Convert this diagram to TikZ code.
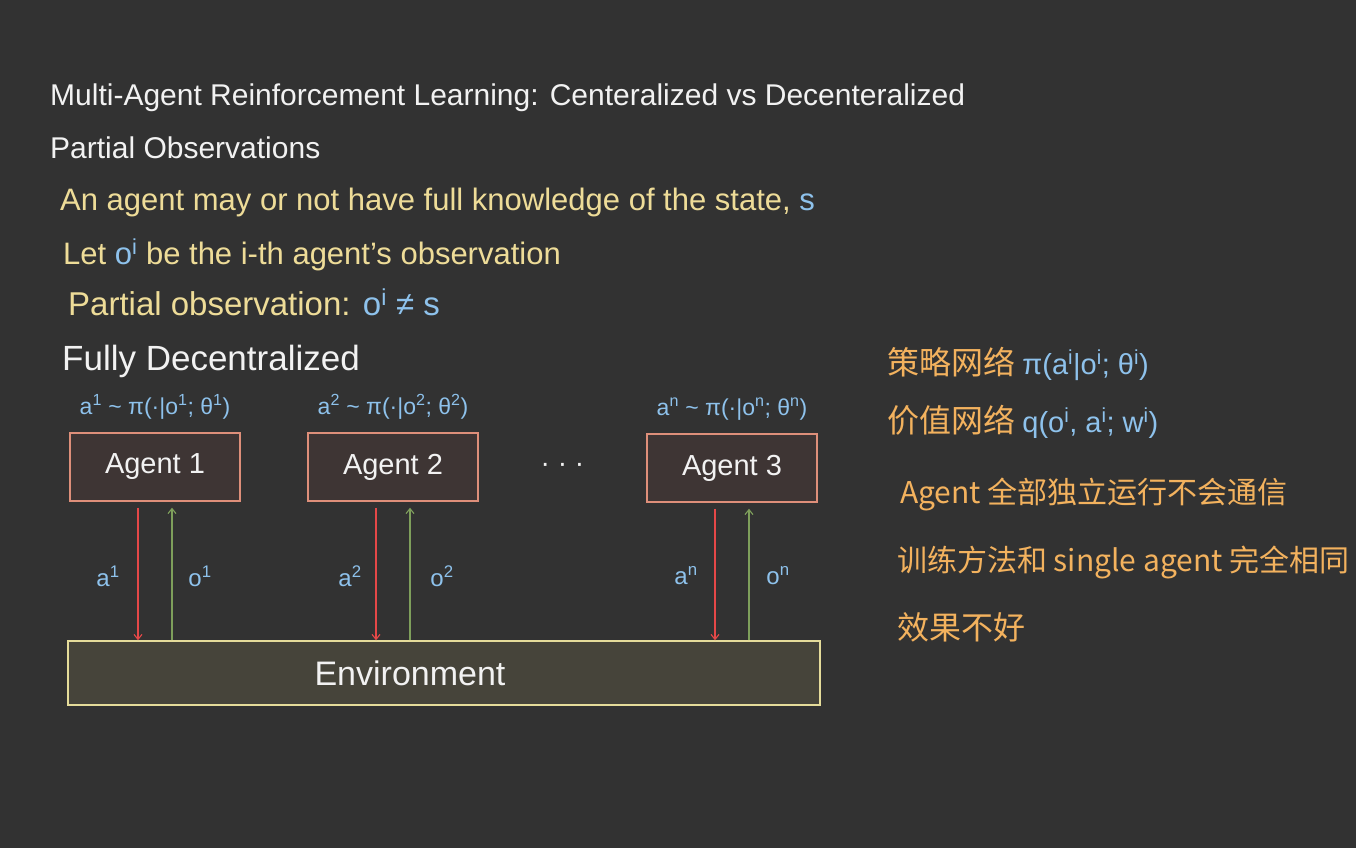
\documentclass[tikz,border=0pt]{standalone}
\usepackage{fontspec}
\setmainfont{Liberation Sans}
\newfontfamily\cjk{Noto Sans CJK SC}
\usepackage{tikz}
\usetikzlibrary{arrows.meta,positioning,calc}
\definecolor{board}{HTML}{323232}
\definecolor{chalk}{HTML}{F2F2F2}
\definecolor{straw}{HTML}{EEDC98}
\definecolor{sky}{HTML}{8EC2EC}
\definecolor{amber}{HTML}{F3B25E}
\definecolor{salmon}{HTML}{DE8F7A}
\definecolor{redline}{HTML}{E54848}
\definecolor{greenline}{HTML}{7E9F5B}
\definecolor{agentfill}{HTML}{3E3534}
\definecolor{envfill}{HTML}{46443A}
\definecolor{envline}{HTML}{E5DC9A}
\newcommand{\sx}[1]{\textsuperscript{#1}}
\newcommand{\fm}[1]{{\color{sky}\normalfont\fontsize{29}{29}\selectfont #1}}

\begin{document}
\begin{tikzpicture}[x=1pt,y=-1pt,every node/.style={inner sep=0pt,anchor=base west},
  fs/.style={font=\fontsize{#1}{#1}\selectfont},
  cjkfs/.style={font=\cjk\fontsize{#1}{#1}\selectfont,text=amber},
  agentbox/.style={draw=salmon,fill=agentfill,line width=1.4pt,minimum width=170pt,minimum height=68pt,anchor=center,text=chalk,fs=29},
  envbox/.style={draw=envline,fill=envfill,line width=1.4pt,minimum width=752pt,minimum height=64pt,anchor=center},
  policy/.style={text=sky,fs=23,above=13pt of #1},
  act/.style={draw=redline,line width=1.1pt,-{Straight Barb[length=5pt,width=8pt]}},
  obs/.style={draw=greenline,line width=1.1pt,-{Straight Barb[length=5pt,width=8pt]}},
  flow/.style={text=sky,fs=24,anchor=center}]
\fill[board] (0,0) rectangle (1356,848);
\useasboundingbox (0,0) rectangle (1356,848);
% heading and notes
\node[fs=30,text=chalk] (title) at (50,106) {Multi-Agent Reinforcement Learning: Centeralized vs Decenteralized};
\node[fs=30,text=chalk] (partobs) at (50,158) {Partial Observations};
\node[fs=31,text=straw] (know) at (60,210) {An agent may or not have full knowledge of the state, \textcolor{sky}{s}};
\node[fs=31,text=straw] (letoi) at (63,264) {Let \textcolor{sky}{o\sx{i}} be the i-th agent's observation};
\node[fs=33,text=straw] (partial) at (68,315) {Partial observation: \textcolor{sky}{o\sx{i} ≠ s}};
\node[fs=35,text=chalk] (fully) at (62,370) {Fully Decentralized};
% agents and environment
\node[agentbox] (ag1) at (155,467) {Agent 1};
\node[agentbox] (ag2) at (393,467) {Agent 2};
\node[agentbox] (ag3) at (732,468) {Agent 3};
\node[fs=28,text=chalk,anchor=center] (dots) at ($(ag2.east)!0.5!(ag3.west)$) {· · ·};
\node[envbox] (env) at (444,673) {};
\node[fs=34,text=chalk,anchor=center,xshift=-34pt] (envtxt) at (env.center) {Environment};
\node[policy=ag1] (pol1) {a\sx{1} \~{} π(·|o\sx{1}; θ\sx{1})};
\node[policy=ag2] (pol2) {a\sx{2} \~{} π(·|o\sx{2}; θ\sx{2})};
\node[policy=ag3] (pol3) {a\sx{n} \~{} π(·|o\sx{n}; θ\sx{n})};
\foreach \ag in {ag1,ag2,ag3}{
  \draw[act] ([xshift=-17pt,yshift=-6pt]\ag.south) -- ([xshift=-17pt]\ag.south |- env.north);
  \draw[obs] ([xshift=17pt]\ag.south |- env.north) -- ([xshift=17pt,yshift=-6pt]\ag.south);
}
\node[flow] (la1) at (108,576) {a\sx{1}};
\node[flow] (lo1) at (200,576) {o\sx{1}};
\node[flow] (la2) at (350,576) {a\sx{2}};
\node[flow] (lo2) at (442,576) {o\sx{2}};
\node[flow] (la3) at (686,576) {a\sx{n}};
\node[flow] (lo3) at (778,576) {o\sx{n}};
% right column
\node[cjkfs=32] (polnet) at (887,374) {策略网络 \fm{π(a\sx{i}|o\sx{i}; θ\sx{i})}};
\node[cjkfs=32] (valnet) at (887,432) {价值网络 \fm{q(o\sx{i}, a\sx{i}; w\sx{i})}};
\node[cjkfs=30] (indep) at (900,503) {Agent 全部独立运行不会通信};
\node[cjkfs=30] (train) at (897,571) {训练方法和 single agent 完全相同};
\node[cjkfs=32] (bad) at (897,639) {效果不好};
\end{tikzpicture}
\end{document}
